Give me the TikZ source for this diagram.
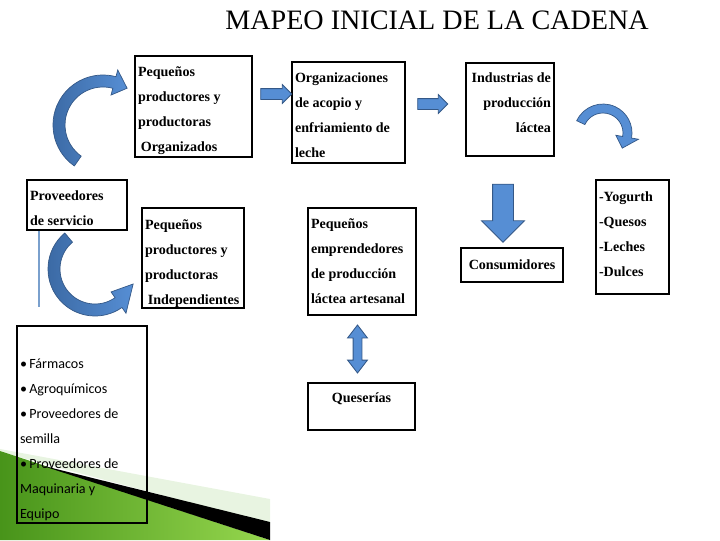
\documentclass[tikz,border=0pt]{standalone}
\usepackage{fontspec}
\setmainfont{Liberation Serif}
\newfontfamily\calfont{Carlito}
\usetikzlibrary{shapes.arrows}

\definecolor{arrowfill}{RGB}{86,142,212}
\definecolor{arrowdark}{RGB}{58,104,162}
\definecolor{arrowedge}{RGB}{52,88,135}
\definecolor{thinline}{RGB}{122,160,205}
\definecolor{grassdark}{RGB}{72,148,26}
\definecolor{grasslight}{RGB}{150,215,78}
\definecolor{grasspale}{RGB}{232,244,225}

\begin{document}
\begin{tikzpicture}[x=0.025cm, y=-0.025cm]
  % Parameters
  \def\pxu{0.025cm}
  \def\boxfont{\bfseries\fontsize{10pt}{17.8pt}\selectfont\hyphenpenalty=10000}

  \tikzset{
    caja/.style={draw, line width=1.4pt, inner xsep=3*\pxu, inner ysep=0pt, font=\boxfont},
    flecha/.style={single arrow, draw=arrowedge, fill=arrowfill, line width=0.6pt,
      single arrow tip angle=90},
    curva/.style={draw=arrowedge, line width=0.5pt, left color=arrowdark, right color=arrowfill},
    % curved block arrow round the pic origin
    bentarrow/.pic={
      \pgfmathsetmacro{\midR}{(\outR+\inR)/2}
      \pgfmathsetmacro{\headout}{\outR+7}
      \pgfmathsetmacro{\headin}{\inR-7}
      \pgfmathsetmacro{\tipA}{\toA+sign(\toA-\fromA)*\headL/\midR*57.3}
      \shadedraw[curva] (\fromA:\outR) arc[start angle=\fromA, end angle=\toA, radius=\outR]
        -- (\toA:\headout) -- (\tipA:\midR) -- (\toA:\headin) -- (\toA:\inR)
        arc[start angle=\toA, end angle=\fromA, radius=\inR] -- cycle;
    }
  }

  \useasboundingbox (0,0) rectangle (720,540);

  % Green corner of the slide
  \fill[grasspale] (0,449) -- (270,499) -- (270,524) -- (0,452) -- cycle;
  \shade[left color=grassdark, right color=grasslight] (0,451) -- (270,540) -- (0,540) -- cycle;
  \fill[black] (40,465) -- (270,522) -- (270,540) -- cycle;

  % Title
  \node[font=\fontsize{20pt}{24pt}\selectfont] (titulo) at (437,20) {MAPEO INICIAL DE LA CADENA};

  % Boxes
  \node[caja, text width=111*\pxu, minimum height=101*\pxu, align=flush left, text height=13.5pt] (prodorg) at (193.5,106.5)
    {Pequeños\\ productores y\\ productoras\\ \hspace{2pt}Organizados};
  \node[caja, text width=107*\pxu, minimum height=101*\pxu, align=flush left, text height=11pt] (acopio) at (348.5,112.5)
    {Organizaciones\\ de acopio y\\ enfriamiento de\\ leche};
  \node[caja, text width=82*\pxu, minimum height=93*\pxu, align=flush right, text depth=45pt] (industria) at (510,109.5)
    {Industrias de\\ producción\\ láctea};
  \node[caja, text width=94*\pxu, minimum height=50*\pxu, align=flush left, text height=11.5pt] (prov) at (77,205)
    {Proveedores\\ de servicio};
  \node[caja, text width=96*\pxu, minimum height=100*\pxu, align=flush left, text height=14.5pt] (prodind) at (193,258)
    {Pequeños\\ productores y\\ productoras\\ \hspace{2pt}Independientes};
  \node[caja, text width=102*\pxu, minimum height=107*\pxu, align=flush left] (artesanal) at (362,261.5)
    {Pequeños\\ emprendedores\\ de producción\\ láctea artesanal};
  \node[caja, text width=101*\pxu, minimum height=47*\pxu, align=center, text depth=12pt] (queseria) at (361.5,406.5)
    {Queserías};
  \node[caja, text width=96*\pxu, minimum height=34*\pxu, align=center] (consumo) at (512,265)
    {Consumidores};
  \node[caja, text width=67*\pxu, minimum height=114*\pxu, align=flush left, text depth=58pt] (productos) at (632.5,237)
    {-Yogurth\\ -Quesos\\ -Leches\\ -Dulces};
  \node[caja, font=\calfont\fontsize{10pt}{17.8pt}\selectfont, text width=124*\pxu, minimum height=197*\pxu,
    align=flush left] (insumos) at (82,424.5)
    {\mbox{}\\[11pt] •\,Fármacos\\ •\,Agroquímicos\\ •\,Proveedores de\\ semilla\\ •\,Proveedores de\\ Maquinaria y\\ Equipo};

  % Straight block arrows
  \node[flecha, inner sep=5*\pxu, minimum height=31*\pxu, single arrow head extend=4*\pxu] (flechaA) at (273.5,94) {};
  \node[flecha, inner sep=5*\pxu, minimum height=30*\pxu, single arrow head extend=4*\pxu] (flechaB) at (430,104) {};
  \node[flecha, inner sep=10*\pxu, minimum height=58*\pxu, single arrow head extend=11*\pxu,
    shape border rotate=270] (flechaC) at (503,208) {};
  \node[double arrow, draw=arrowedge, fill=arrowfill, line width=0.6pt, inner sep=4*\pxu,
    minimum height=48*\pxu, double arrow head extend=5.5*\pxu,
    double arrow tip angle=75, shape border rotate=90] (flechaD) at (357.5,349) {};

  % Curved block arrows
  \def\outR{50}\def\inR{38}\def\fromA{125}\def\toA{285}\def\headL{14}
  \pic (curvaA) at (103,125) {bentarrow};
  \def\outR{47}\def\inR{35}\def\fromA{230}\def\toA{55}\def\headL{24}
  \pic (curvaB) at (95,269) {bentarrow};
  \def\outR{29}\def\inR{20}\def\fromA{205}\def\toA{370}\def\headL{12}
  \pic[curva/.append style={left color=arrowfill}] (curvaC) at (603,133) {bentarrow};

  % Thin line under the service box
  \coordinate (lineafin) at (39,307);
  \draw[thinline, line width=1.6pt] (prov.south west -| lineafin) -- (lineafin);

\end{tikzpicture}
\end{document}
